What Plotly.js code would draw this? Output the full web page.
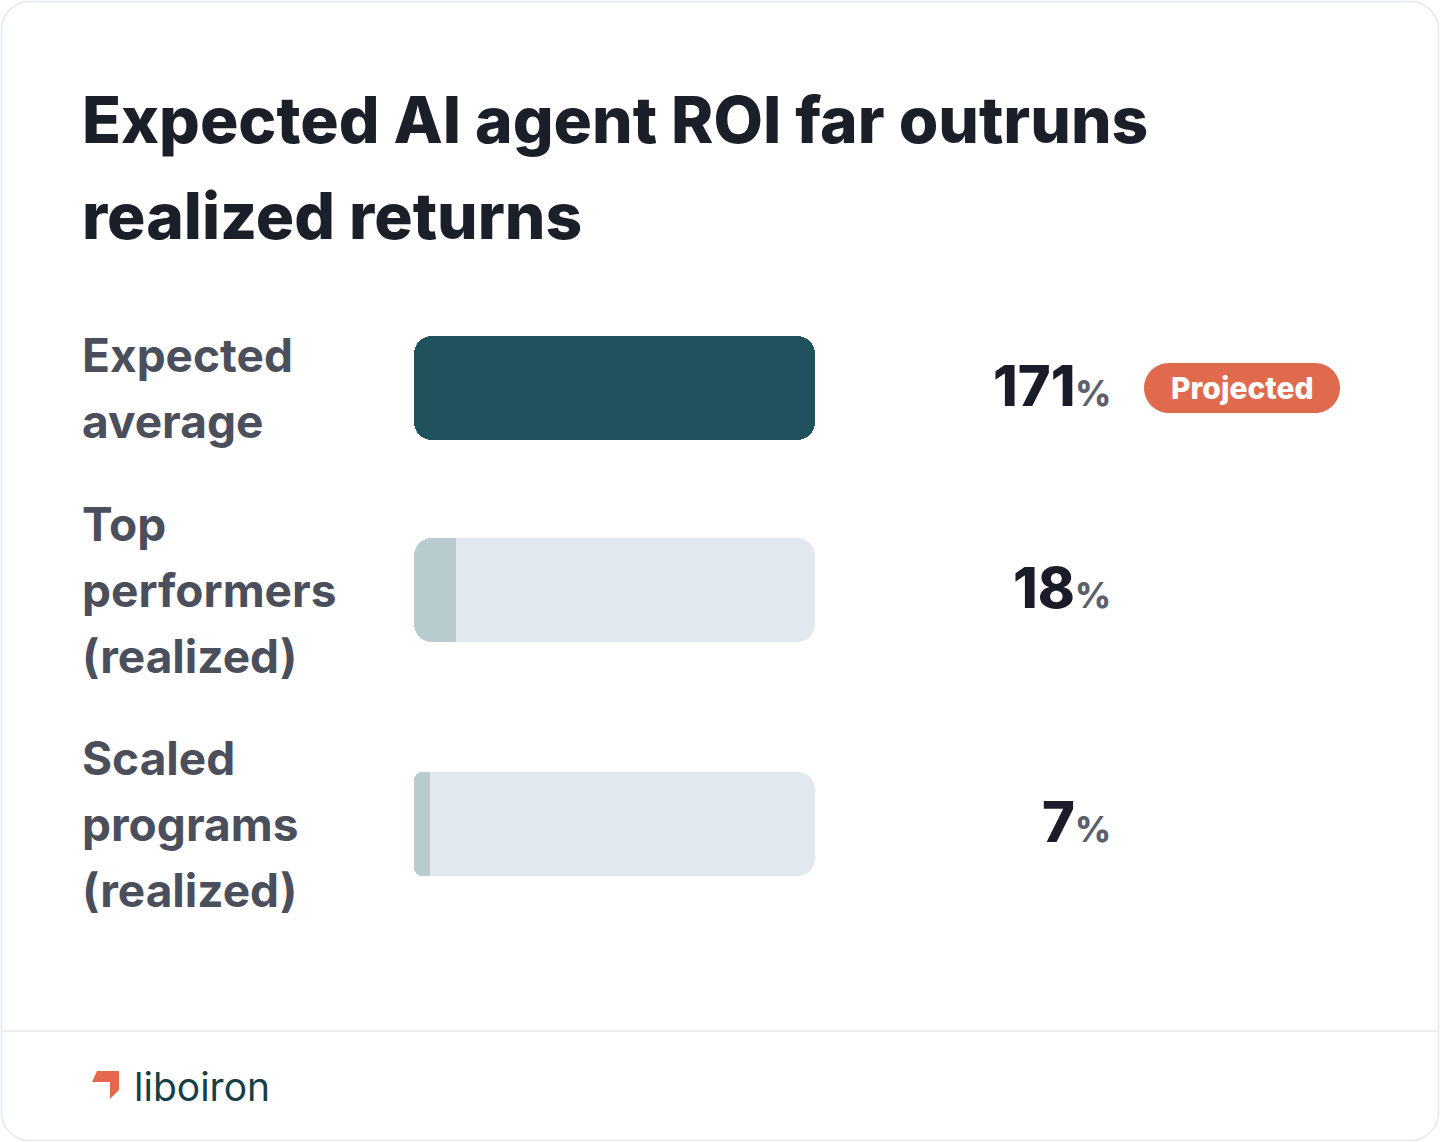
<!DOCTYPE html>
<html>
<head>
<meta charset="utf-8">
<script src="https://cdn.plot.ly/plotly-3.0.1.min.js"></script>
<style>
  html, body { margin: 0; padding: 0; background: #ffffff; }
  #chart { width: 1440px; height: 1142px; }
</style>
</head>
<body>
<div id="chart"></div>
<script>
// ---- Chart data ----
const titleLines = ["Expected AI agent ROI far outruns", "realized returns"];
const categories = ["Expected average", "Top performers (realized)", "Scaled programs (realized)"];
const labelLines = [["Expected", "average"], ["Top", "performers", "(realized)"], ["Scaled", "programs", "(realized)"]];
const roiValues = [171, 18, 7];
const valueSuffix = "%";
const seriesKind = ["projected", "realized", "realized"];
const tags = ["Projected", "", ""];
const brandName = "liboiron";

// ---- Canvas geometry (pixels) ----
const W = 1440, H = 1142;
const fx = p => p / W;
const fy = p => 1 - p / H;
const barLeft = 414, barRight = 815;
const rowBands = [[336, 440], [538, 642], [772, 876]]; // top/bottom of each bar row
const lineStep = 66;       // label line spacing
const FONT = "Inter, 'Noto Sans', sans-serif";

const colors = {
  track: "#e2e8f0",
  projected: "#1f525d",
  realized: "#b8cbce",
  title: "#1b1f2a",
  label: "#4b4f5b",
  value: "#1a1d29",
  suffix: "#5c606b",
  pill: "#e06a4e",
  border: "#e4e7eb",
  brand: "#163f48",
  mark: "#e4684c"
};

const scaleMax = Math.max(...roiValues);
const radius = 18;

const yName = i => (i === 0 ? "y" : "y" + (i + 1));
const yKey = i => (i === 0 ? "yaxis" : "yaxis" + (i + 1));

// ---- Bars: each row is a rounded track with the value fill on top ----
const traces = [];
function bar(i, base, len, color, r) {
  return {
    type: "bar", orientation: "h",
    y: [categories[i]], x: [len], base: [base],
    xaxis: "x", yaxis: yName(i),
    marker: { color: color, cornerradius: r, line: { width: 0 } },
    hoverinfo: "skip", showlegend: false
  };
}
// A segment from 0 to `end`, always rounded at 0.
// roundEnd: the far half is drawn first (rounded at the end), then a piece drawn
// back towards 0 covers the rest. Otherwise a square cap finishes the end.
function segment(i, end, color, roundEnd) {
  if (roundEnd) {
    traces.push(bar(i, end / 2, end / 2, color, radius));
    const back = end * 0.75;
    traces.push(bar(i, back, -back, color, radius));
  } else {
    traces.push(bar(i, end, -end, color, radius));
    traces.push(bar(i, end / 2, end / 2, color, 0));
  }
}
roiValues.forEach((v, i) => {
  segment(i, scaleMax, colors.track, true);
  segment(i, v, colors[seriesKind[i]], v >= scaleMax);
});

// ---- Layout ----
const layout = {
  width: W, height: H,
  margin: { l: 0, r: 0, t: 0, b: 0, pad: 0 },
  paper_bgcolor: "#ffffff", plot_bgcolor: "rgba(0,0,0,0)",
  barmode: "overlay", bargap: 0,
  hovermode: false, showlegend: false,
  font: { family: FONT },
  xaxis: {
    domain: [fx(barLeft), fx(barRight)], range: [0, scaleMax],
    visible: false, fixedrange: true, showgrid: false, zeroline: false
  },
  annotations: [], shapes: []
};
rowBands.forEach((b, i) => {
  layout[yKey(i)] = {
    domain: [fy(b[1]), fy(b[0])], anchor: "x",
    type: "category", range: [-0.5, 0.5],
    visible: false, fixedrange: true, showgrid: false, zeroline: false
  };
});

// Title
const titleCenters = [120, 216];
titleLines.forEach((t, j) => {
  layout.annotations.push({
    text: t, xref: "paper", yref: "paper", x: fx(80), y: fy(titleCenters[j]),
    xanchor: "left", yanchor: "middle", showarrow: false,
    font: { family: FONT, size: 64, weight: 850, color: colors.title }
  });
});

// Row labels, values and tags
roiValues.forEach((v, i) => {
  const lines = labelLines[i];
  lines.forEach((t, j) => {
    layout.annotations.push({
      text: t, xref: "paper", yref: yName(i), x: fx(80), y: categories[i],
      xanchor: "left", yanchor: "middle", showarrow: false,
      yshift: ((lines.length - 1) / 2 - j) * lineStep,
      font: { family: FONT, size: 46, weight: 650, color: colors.label }
    });
  });
  layout.annotations.push({
    text: v + '<span style="font-size:35px;fill:' + colors.suffix + '">' + valueSuffix + '</span>',
    xref: "paper", yref: yName(i), x: fx(1113), y: categories[i],
    xanchor: "right", yanchor: "middle", showarrow: false, yshift: 2,
    font: { family: FONT, size: 56, weight: 850, color: colors.value }
  });
  if (tags[i]) {
    const cy = (rowBands[i][0] + rowBands[i][1]) / 2;
    const x0 = 1144, x1 = 1340, h = 50;
    layout.shapes.push({
      type: "path", xref: "paper", yref: "paper",
      path: roundedRect(x0, cy - h / 2, x1, cy + h / 2, h / 2),
      fillcolor: colors.pill, line: { width: 0 }, layer: "above"
    });
    layout.annotations.push({
      text: tags[i], xref: "paper", yref: yName(i), x: fx((x0 + x1) / 2), y: categories[i],
      xanchor: "center", yanchor: "middle", showarrow: false,
      font: { family: FONT, size: 30, weight: 800, color: "#ffffff" }
    });
  }
});

// Rounded rectangle path in paper coordinates from pixel corners
function roundedRect(x0, y0, x1, y1, r) {
  const k = 0.5523 * r;
  const P = (x, y) => fx(x).toFixed(5) + "," + fy(y).toFixed(5);
  return "M" + P(x0 + r, y0) +
    " L" + P(x1 - r, y0) +
    " C" + P(x1 - r + k, y0) + " " + P(x1, y0 + r - k) + " " + P(x1, y0 + r) +
    " L" + P(x1, y1 - r) +
    " C" + P(x1, y1 - r + k) + " " + P(x1 - r + k, y1) + " " + P(x1 - r, y1) +
    " L" + P(x0 + r, y1) +
    " C" + P(x0 + r - k, y1) + " " + P(x0, y1 - r + k) + " " + P(x0, y1 - r) +
    " L" + P(x0, y0 + r) +
    " C" + P(x0, y0 + r - k) + " " + P(x0 + r - k, y0) + " " + P(x0 + r, y0) + " Z";
}

// Card outline and footer divider
layout.shapes.push({
  type: "path", xref: "paper", yref: "paper",
  path: roundedRect(1.5, 1.5, 1438.5, 1140.5, 28),
  fillcolor: "rgba(0,0,0,0)", line: { color: colors.border, width: 1.5 }, layer: "below"
});
layout.shapes.push({
  type: "line", xref: "paper", yref: "paper",
  x0: fx(1.5), x1: fx(1438.5), y0: fy(1031), y1: fy(1031),
  line: { color: colors.border, width: 1.5 }, layer: "below"
});

// Brand mark and name
const markPts = [[97, 1071], [119, 1071], [119, 1090], [110, 1099], [110, 1082], [92, 1082]];
layout.shapes.push({
  type: "path", xref: "paper", yref: "paper",
  path: "M" + markPts.map(p => fx(p[0]).toFixed(5) + "," + fy(p[1]).toFixed(5)).join(" L") + " Z",
  fillcolor: colors.mark, line: { width: 0 }, layer: "above"
});
layout.annotations.push({
  text: brandName, xref: "paper", yref: "paper", x: fx(132), y: fy(1086),
  xanchor: "left", yanchor: "middle", showarrow: false,
  font: { family: FONT, size: 39, weight: 400, color: colors.brand }
});

Plotly.newPlot("chart", traces, layout, { staticPlot: true, displayModeBar: false });
</script>
</body>
</html>
